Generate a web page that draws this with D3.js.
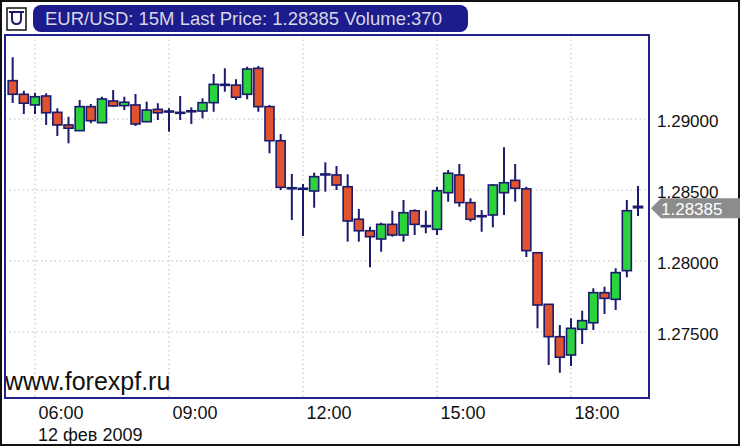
<!DOCTYPE html>
<html><head><meta charset="utf-8">
<script src="https://cdn.jsdelivr.net/npm/d3@7"></script>
<style>body{margin:0;background:#fff}svg{display:block;font-family:"Liberation Sans",Arial,sans-serif}</style>
</head><body><svg id="c" width="740" height="446"></svg>
<script>
// ---- data ----
const titleText = "EUR/USD: 15M Last Price: 1.28385 Volume:370";
const lastPrice = 1.28385;
const dateLabel = "12 фев 2009";
const watermark = "www.forexpf.ru";
const firstBar = new Date(2009, 1, 12, 5, 30);
const barMinutes = 15;
const yTicks = [1.275, 1.28, 1.285, 1.29];
const xTickHours = [6, 9, 12, 15, 18];

const opens = [1.29270,1.29174,1.29099,1.29162,1.29047,1.28958,1.28918,1.29087,1.28974,1.29127,
1.29094,1.29099,1.28981,1.29068,1.29056,1.29047,1.29058,1.29056,1.29115,1.29244,
1.29239,1.29174,1.29357,1.29087,1.28847,1.28516,1.28512,1.28493,1.28613,1.28606,
1.28523,1.28294,1.28213,1.28155,1.28258,1.28183,1.28354,1.28249,1.28223,1.28481,
1.28606,1.28411,1.28319,1.28324,1.28481,1.28568,1.28508,1.28058,1.27695,1.27467,
1.27338,1.27519,1.27565,1.27777,1.27730,1.27932,1.28375];
const highs = [1.29435,1.29199,1.29185,1.29181,1.29075,1.29016,1.29134,1.29106,1.29157,1.29204,
1.29157,1.29176,1.29122,1.29111,1.29075,1.29162,1.29082,1.29146,1.29317,1.29357,
1.29280,1.29368,1.29373,1.29099,1.28894,1.28613,1.28542,1.28622,1.28695,1.28669,
1.28611,1.28366,1.28242,1.28270,1.28354,1.28430,1.28364,1.28354,1.28523,1.28641,
1.28683,1.28442,1.28359,1.28542,1.28801,1.28683,1.28523,1.28058,1.27695,1.27549,
1.27596,1.27650,1.27808,1.27819,1.27949,1.28430,1.28528];
const lows = [1.29113,1.29035,1.29035,1.28958,1.28880,1.28829,1.28915,1.28970,1.28972,1.29087,
1.29063,1.28951,1.28979,1.28993,1.28911,1.28993,1.28965,1.29005,1.29051,1.29192,
1.29134,1.29139,1.29051,1.28758,1.28500,1.28289,1.28176,1.28375,1.28488,1.28500,
1.28136,1.28136,1.27956,1.28065,1.28171,1.28136,1.28183,1.28195,1.28183,1.28418,
1.28382,1.28277,1.28206,1.28237,1.28324,1.28418,1.28028,1.27526,1.27268,1.27213,
1.27261,1.27415,1.27514,1.27627,1.27655,1.27885,1.28317];
const closes = [1.29174,1.29111,1.29157,1.29044,1.28958,1.28935,1.29087,1.28988,1.29141,1.29092,
1.29118,1.28965,1.29063,1.29044,1.29056,1.29047,1.29058,1.29115,1.29244,1.29244,
1.29153,1.29352,1.29087,1.28847,1.28519,1.28516,1.28512,1.28594,1.28613,1.28535,
1.28282,1.28213,1.28171,1.28258,1.28183,1.28340,1.28258,1.28249,1.28495,1.28618,
1.28411,1.28294,1.28319,1.28535,1.28551,1.28512,1.28073,1.27690,1.27467,1.27322,
1.27526,1.27580,1.27777,1.27737,1.27918,1.28354,1.28385];

// ---- styles ----
const navy = "#1b1b6e", frameCol = "#22228c", green = "#2ad23c", red = "#e0532e", gridCol = "#bdbdbd";
const plot = {x: 5, y: 35, w: 644, h: 363};

const svg = d3.select("#c");
const day = (h, m = 0) => new Date(2009, 1, 12, h, m);
const x = d3.scaleTime().domain([day(6), day(18)]).range([35, 571]);
const y = d3.scaleLinear().domain([1.275, 1.29]).range([332, 119]);

const bars = opens.map((o, i) => ({
  t: d3.timeMinute.offset(firstBar, i * barMinutes), o, h: highs[i], l: lows[i], c: closes[i]
}));

// outer frame
svg.append("rect").attr("x", 1).attr("y", 1).attr("width", 738).attr("height", 444)
  .attr("fill", "#fff").attr("stroke", "#111").attr("stroke-width", 2);

// plot background
svg.append("rect").attr("x", plot.x).attr("y", plot.y).attr("width", plot.w).attr("height", plot.h).attr("fill", "#fff");

svg.append("clipPath").attr("id", "clip").append("rect")
  .attr("x", plot.x).attr("y", plot.y).attr("width", plot.w).attr("height", plot.h);

const gridG = svg.append("g");
gridG.selectAll(".hg").data(yTicks).join("line")
  .attr("x1", plot.x).attr("x2", plot.x + plot.w).attr("y1", d => y(d)).attr("y2", d => y(d))
  .attr("stroke", gridCol).attr("stroke-dasharray", "1.5,3");
const xTickDates = xTickHours.map(h => day(h));
gridG.selectAll(".vg").data(xTickDates).join("line")
  .attr("x1", d => x(d)).attr("x2", d => x(d)).attr("y1", plot.y).attr("y2", plot.y + plot.h)
  .attr("stroke", gridCol).attr("stroke-dasharray", "1.5,3");

// candles
const cg = svg.append("g").attr("clip-path", "url(#clip)");
const bw = 9;
cg.selectAll(".wick").data(bars).join("line")
  .attr("x1", d => x(d.t)).attr("x2", d => x(d.t))
  .attr("y1", d => y(d.h)).attr("y2", d => y(d.l))
  .attr("stroke", navy).attr("stroke-width", 2);
cg.selectAll(".body").data(bars).join("rect")
  .attr("x", d => x(d.t) - bw / 2).attr("width", bw)
  .attr("y", d => y(Math.max(d.o, d.c)))
  .attr("height", d => Math.max(1, Math.abs(y(d.o) - y(d.c))))
  .attr("fill", d => d.c >= d.o ? green : red)
  .attr("stroke", navy).attr("stroke-width", 1.6);

// watermark
svg.append("text").attr("x", 5).attr("y", 390).attr("font-size", 25).attr("fill", "#111").text(watermark);

// plot frame
svg.append("rect").attr("x", plot.x).attr("y", plot.y).attr("width", plot.w).attr("height", plot.h)
  .attr("fill", "none").attr("stroke", frameCol).attr("stroke-width", 2);

// y axis (right)
const yAxis = svg.append("g").attr("transform", `translate(657,0)`)
  .call(d3.axisRight(y).tickValues(yTicks).tickFormat(d3.format(".5f")).tickSize(0).tickPadding(0));
yAxis.select(".domain").remove();
yAxis.selectAll("text").attr("font-size", 17).attr("font-family", "Liberation Sans, Arial, sans-serif")
  .attr("fill", "#111").attr("dy", "0.45em");

// x axis (bottom)
const xAxis = svg.append("g").attr("transform", `translate(0,${plot.y + plot.h})`)
  .call(d3.axisBottom(x).tickValues(xTickDates).tickFormat(d3.timeFormat("%H:%M")).tickSize(0).tickPadding(8));
xAxis.select(".domain").remove();
xAxis.selectAll("text").attr("font-size", 18).attr("font-family", "Liberation Sans, Arial, sans-serif")
  .attr("fill", "#111").attr("text-anchor", "start").attr("x", 3);
svg.append("text").attr("x", x(day(6)) + 3).attr("y", 441).attr("font-size", 18).attr("fill", "#111").text(dateLabel);

// last price tag
const yp = y(lastPrice) + 2;
svg.append("polygon")
  .attr("points", [[651, yp], [661, yp - 10], [740, yp - 10], [740, yp + 10], [661, yp + 10]].map(p => p.join(",")).join(" "))
  .attr("fill", "#8c8c8c");
svg.append("text").attr("x", 661).attr("y", yp + 7).attr("font-size", 17).attr("fill", "#fff").text(d3.format(".5f")(lastPrice));

// header icon
svg.append("rect").attr("x", 7).attr("y", 8).attr("width", 19).attr("height", 22)
  .attr("fill", "#fff").attr("stroke", "#111").attr("stroke-width", 1.5);
svg.append("line").attr("x1", 9).attr("x2", 24).attr("y1", 12).attr("y2", 12).attr("stroke", navy).attr("stroke-width", 2);
svg.append("path").attr("d", "M12,13 V19 Q12,24 16.5,24 Q21,24 21,19 V13").attr("fill", "none").attr("stroke", navy).attr("stroke-width", 2);

// title bar
svg.append("rect").attr("x", 33).attr("y", 5).attr("width", 435).attr("height", 27).attr("rx", 8)
  .attr("fill", "#1c1c8c");
svg.append("text").attr("x", 45).attr("y", 25).attr("font-size", 18.5).attr("fill", "#d8d8e6").text(titleText);
</script></body></html>
